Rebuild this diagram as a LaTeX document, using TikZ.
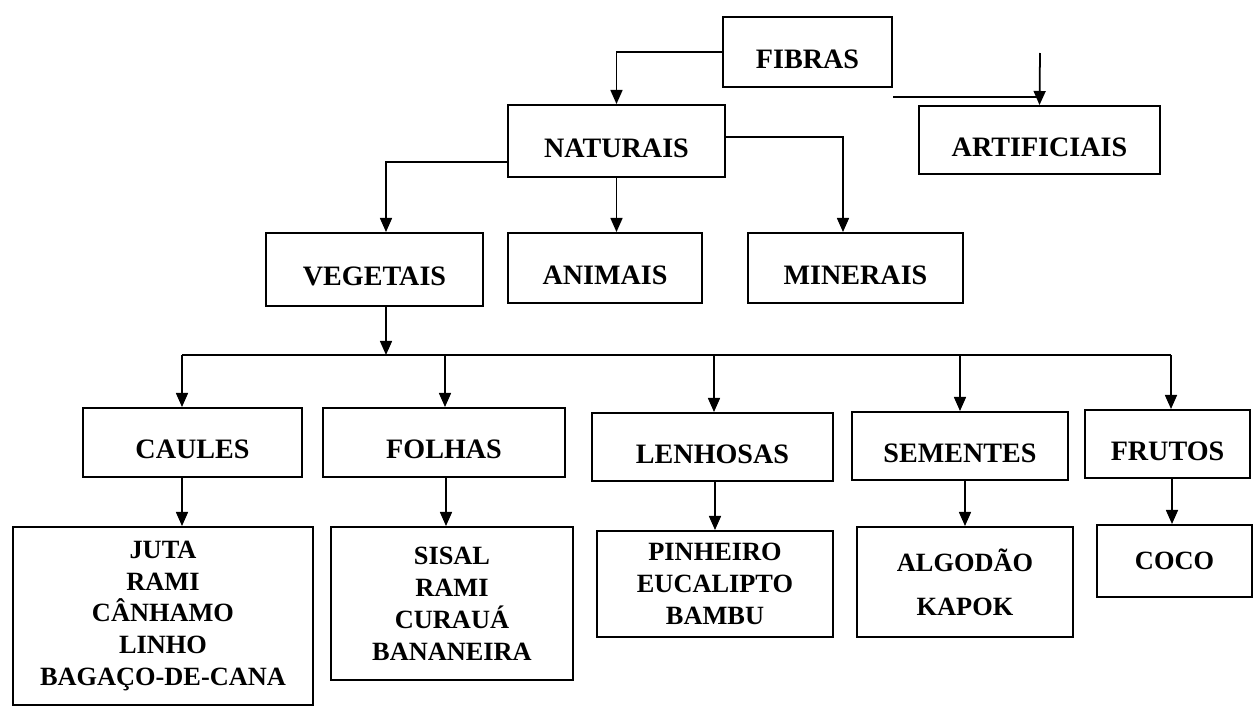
\documentclass[tikz,border=0pt]{standalone}
\usepackage{fontspec}
\setmainfont{Liberation Serif}
\usetikzlibrary{arrows.meta,calc}
\newcommand\headFont{\fontsize{16}{18}\selectfont\bfseries}
\newcommand\listFont{\fontsize{15}{18.2}\selectfont\bfseries}
\newcommand\busY{355}

\tikzset{
  frame/.style={draw, line width=1.1pt, inner sep=0pt, align=center},
  box/.style={frame, font=\headFont, text height=18.6pt, text depth=0pt},
  listbox/.style={frame, font=\listFont},
  boxwh/.style 2 args={minimum width=#1*0.02cm, minimum height=#2*0.02cm},
  arr/.style={line width=1pt, -{Triangle[length=8pt,width=6.8pt]}},
  ln/.style={line width=1pt},
}

\begin{document}
\begin{tikzpicture}[x=0.02cm, y=-0.02cm]
    \useasboundingbox (0,0) rectangle (1255,707);

    %% top levels
    \node[box, boxwh={169}{70}] (fibras) at (807.5,52) {FIBRAS};
    \node[box, boxwh={217}{72}] (naturais) at (616.5,141) {NATURAIS};
    \node[box, boxwh={241}{68}] (artificiais) at (1039.5,140) {ARTIFICIAIS};
    \node[box, boxwh={217}{73}] (vegetais) at (374.5,269.5) {VEGETAIS};
    \node[box, boxwh={194}{70}] (animais) at (605,268) {ANIMAIS};
    \node[box, boxwh={215}{70}] (minerais) at (855.5,268) {MINERAIS};

    %% plant parts
    \foreach \nm/\txt/\cx/\cy/\w/\h in {caules/CAULES/192.5/442.5/219/69,
        folhas/FOLHAS/444/442.5/242/69, lenhosas/LENHOSAS/712.5/447/241/68,
        sementes/SEMENTES/960/446/216/68, frutos/FRUTOS/1167.5/444/165/68}{
      \node[box, boxwh={\w}{\h}] (\nm) at (\cx,\cy) {\txt};
    }

    %% lists of fibres
    \node[listbox, boxwh={300}{178}] (caulesList) at (163,616) {JUTA\\RAMI\\CÂNHAMO\\LINHO\\BAGAÇO-DE-CANA};
    \node[listbox, boxwh={242}{153}] (folhasList) at (452,603.5) {SISAL\\RAMI\\CURAUÁ\\BANANEIRA};
    \node[listbox, boxwh={236}{106}] (lenhosasList) at (715,584) {PINHEIRO\\EUCALIPTO\\BAMBU};
    \node[listbox, boxwh={216}{110}] (sementesList) at (965,582) {ALGODÃO\\[7pt]KAPOK};
    \node[listbox, boxwh={155}{72}] (frutosList) at (1174.5,561) {COCO};

    %% fibras branches
    \draw[arr] (fibras.west) -| (naturais.north);
    \coordinate (artTop) at (1040,53);
    \coordinate (artLeft) at (893,97);
    \draw[arr] (artTop) -- (artificiais.north);
    \draw[ln] (artLeft) -- (artLeft -| artificiais.north);

    %% naturais branches
    \draw[arr] ($(naturais.west)+(0,21)$) -| ($(vegetais.north)+(11.5,0)$);
    \draw[arr] (naturais.south) -- (naturais.south |- animais.north);
    \draw[arr] ($(naturais.east)+(0,-4)$) -| ($(minerais.north)+(-12.5,0)$);

    %% vegetais bus
    \coordinate (busL) at (182,\busY);
    \coordinate (busR) at (1171,\busY);
    \coordinate (vegOut) at ($(vegetais.south)+(11.5,0)$);
    \draw[arr] (vegOut) -- (vegOut |- busL);
    \draw[ln] (busL) -- (busR);
    \foreach \nm/\dx in {caules/-10.5, folhas/1, lenhosas/1.5, sementes/0, frutos/3.5}{
      \draw[arr] ($(\nm.north |- busL)+(\dx,0)$) -- ($(\nm.north)+(\dx,0)$);
    }

    %% parts to lists
    \foreach \nm/\lst/\dx in {caules/caulesList/-10.5, folhas/folhasList/2,
        lenhosas/lenhosasList/2.5, sementes/sementesList/5, frutos/frutosList/4.5}{
      \draw[arr] ($(\nm.south)+(\dx,0)$) -- ($(\lst.north -| \nm.south)+(\dx,0)$);
    }

\end{tikzpicture}
\end{document}
